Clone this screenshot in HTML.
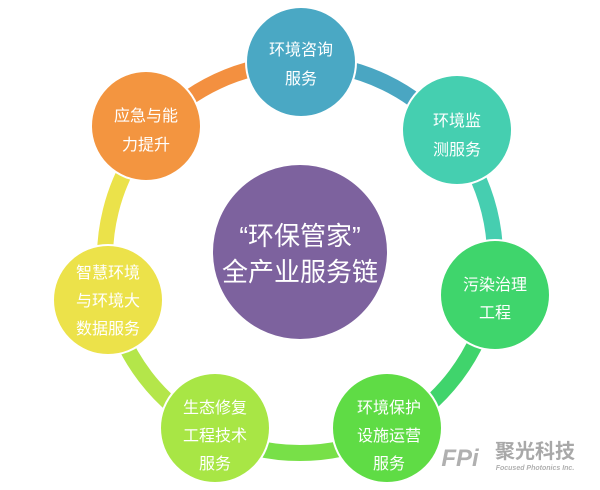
<!DOCTYPE html>
<html><head><meta charset="utf-8"><style>
body{margin:0;background:#fff;}
svg text{font-family:"Liberation Sans","Noto Sans CJK SC",sans-serif;fill:#fff;text-anchor:middle;}
</style></head><body>
<svg width="600" height="485" viewBox="0 0 600 485" xmlns="http://www.w3.org/2000/svg">
<g fill="none" stroke-width="16">
<path d="M300,63 A195,195 0 0 1 451.6,135.3" stroke="#4aa6c2"/>
<path d="M451.6,135.3 A195,195 0 0 1 491.5,295.2" stroke="#46ceb0"/>
<path d="M491.5,295.2 A195,195 0 0 1 388.5,431.8" stroke="#40d46c"/>
<path d="M388.5,431.8 A195,195 0 0 1 211.5,431.8" stroke="#78e048"/>
<path d="M211.5,431.8 A195,195 0 0 1 109.3,298.5" stroke="#b4e64a"/>
<path d="M109.3,298.5 A195,195 0 0 1 150.6,132.6" stroke="#ebe24a"/>
<path d="M150.6,132.6 A195,195 0 0 1 300,63" stroke="#f39040"/>
</g>
<g stroke="#fff" stroke-width="2">
<circle cx="301" cy="62" r="55" fill="#4aa8c4"/>
<circle cx="457" cy="130" r="55" fill="#45cfb0"/>
<circle cx="495" cy="295" r="55" fill="#3fd56c"/>
<circle cx="387" cy="428" r="55" fill="#5fdc45"/>
<circle cx="215" cy="428" r="55" fill="#a8e645"/>
<circle cx="108" cy="300" r="55" fill="#ece24a"/>
<circle cx="146" cy="126" r="55" fill="#f39540"/>
<circle cx="300" cy="252" r="88" fill="#7d629e"/>
</g>
<g font-size="16">
<text x="301" y="55">环境咨询</text><text x="301" y="84">服务</text>
<text x="457" y="126">环境监</text><text x="457" y="155">测服务</text>
<text x="495" y="290">污染治理</text><text x="495" y="318">工程</text>
<text x="389" y="413">环境保护</text><text x="389" y="441">设施运营</text><text x="389" y="469">服务</text>
<text x="215" y="413">生态修复</text><text x="215" y="441">工程技术</text><text x="215" y="469">服务</text>
<text x="108" y="278">智慧环境</text><text x="108" y="306">与环境大</text><text x="108" y="334">数据服务</text>
<text x="146" y="121">应急与能</text><text x="146" y="150">力提升</text>
</g>
<g font-size="26">
<text x="300" y="245">“环保管家”</text>
<text x="300" y="281">全产业服务链</text>
</g>
<g>
<text x="460" y="466" font-size="24" font-style="italic" font-weight="bold" style="fill:#b0b0b0">FPi</text>
<text x="535" y="458" font-size="20" font-weight="bold" style="fill:#a8a8a8">聚光科技</text>
<text x="535" y="470" font-size="7" font-style="italic" font-weight="bold" style="fill:#b0b0b0">Focused Photonics Inc.</text>
</g>
</svg>
</body></html>
